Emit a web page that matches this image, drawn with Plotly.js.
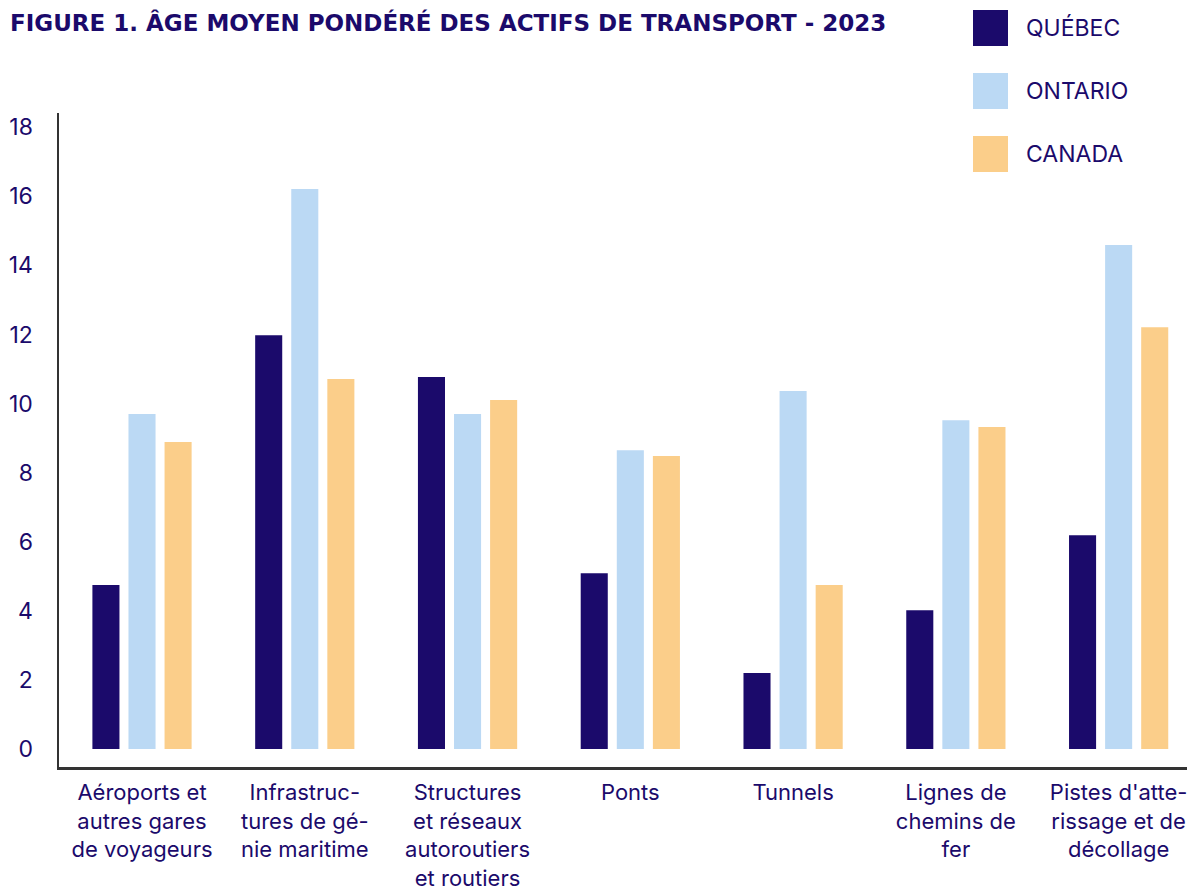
<!DOCTYPE html>
<html>
<head>
<meta charset="utf-8">
<script src="https://cdn.plot.ly/plotly-3.0.1.min.js"></script>
<style>html,body{margin:0;padding:0;background:#fff;}#chart{width:1187px;height:890px;}</style>
</head>
<body>
<div id="chart"></div>
<script>
const categories = [
  "Aéroports et<br>autres gares<br>de voyageurs",
  "Infrastruc-<br>tures de gé-<br>nie maritime",
  "Structures<br>et réseaux<br>autoroutiers<br>et routiers",
  "Ponts",
  "Tunnels",
  "Lignes de<br>chemins de<br>fer",
  "Pistes d'atte-<br>rissage et de<br>décollage"
];
const seriesNames = ["QUÉBEC", "ONTARIO", "CANADA"];
const quebec  = [4.75, 11.98, 10.77, 5.09, 2.20, 4.02, 6.19];
const ontario = [9.70, 16.21, 9.70, 8.65, 10.36, 9.52, 14.59];
const canada  = [8.89, 10.71, 10.10, 8.48, 4.75, 9.32, 12.21];
const colors = ["#1B0A6B", "#BBD9F4", "#FBCE8A"];
const yTicks = [0, 2, 4, 6, 8, 10, 12, 14, 16, 18];

const navy = "#1B0A6B";
const font = "Inter, 'Noto Sans', sans-serif";
const titleFont = "'DejaVu Sans', Inter, sans-serif";
const W = 1187, H = 890;
const L = 59, R = 0, T = 113, B = 123;
const pw = W - L - R, ph = H - T - B;
const px2x = p => (p - L) / pw;
const px2y = p => 1 - (p - T) / ph;

const xs = categories.map((c, i) => i);
const seriesVals = [quebec, ontario, canada];
const traces = seriesVals.map((vals, k) => ({
  type: "bar",
  x: xs,
  y: vals,
  name: seriesNames[k],
  marker: {color: colors[k]},
  hoverinfo: "y+name",
  showlegend: false
}));

const shapes = [], annotations = [];
const legTop = [10, 73, 136];
seriesNames.forEach((n, k) => {
  shapes.push({type: "rect", xref: "paper", yref: "paper",
    x0: px2x(973), x1: px2x(1008), y0: px2y(legTop[k] + 36), y1: px2y(legTop[k]),
    fillcolor: colors[k], line: {width: 0}});
  annotations.push({xref: "paper", yref: "paper", x: px2x(1024), y: px2y(legTop[k] + 18),
    xanchor: "left", yanchor: "middle", showarrow: false, text: n,
    font: {family: font, size: 23, color: navy}});
});

const layout = {
  width: W, height: H,
  margin: {l: L, r: R, t: T, b: B, pad: 0},
  paper_bgcolor: "#fff", plot_bgcolor: "#fff",
  title: {text: "<b>FIGURE 1. ÂGE MOYEN PONDÉRÉ DES ACTIFS DE TRANSPORT - 2023</b>",
    xref: "container", yref: "container", x: 10 / W, y: 1 - 23 / H,
    xanchor: "left", yanchor: "middle",
    font: {family: titleFont, size: 23, color: navy}},
  barmode: "group",
  bargap: 0.335,
  bargroupgap: 0.25,
  xaxis: {
    range: [-0.51, 6.42],
    tickvals: xs, ticktext: categories,
    showgrid: false, zeroline: false,
    showline: true, linecolor: "#333", linewidth: 2.5,
    ticks: "", ticklabelstandoff: 4,
    ticklabeloverflow: "allow",
    tickfont: {family: font, size: 22, color: navy}
  },
  yaxis: {
    range: [-0.52, 18.41],
    tickvals: yTicks,
    showgrid: false, zeroline: false,
    showline: true, linecolor: "#333", linewidth: 2.5,
    ticks: "", ticklabelstandoff: 19,
    tickfont: {family: font, size: 23, color: navy}
  },
  shapes: shapes,
  annotations: annotations,
  showlegend: false
};

Plotly.newPlot("chart", traces, layout, {displayModeBar: false, staticPlot: true});
</script>
</body>
</html>
